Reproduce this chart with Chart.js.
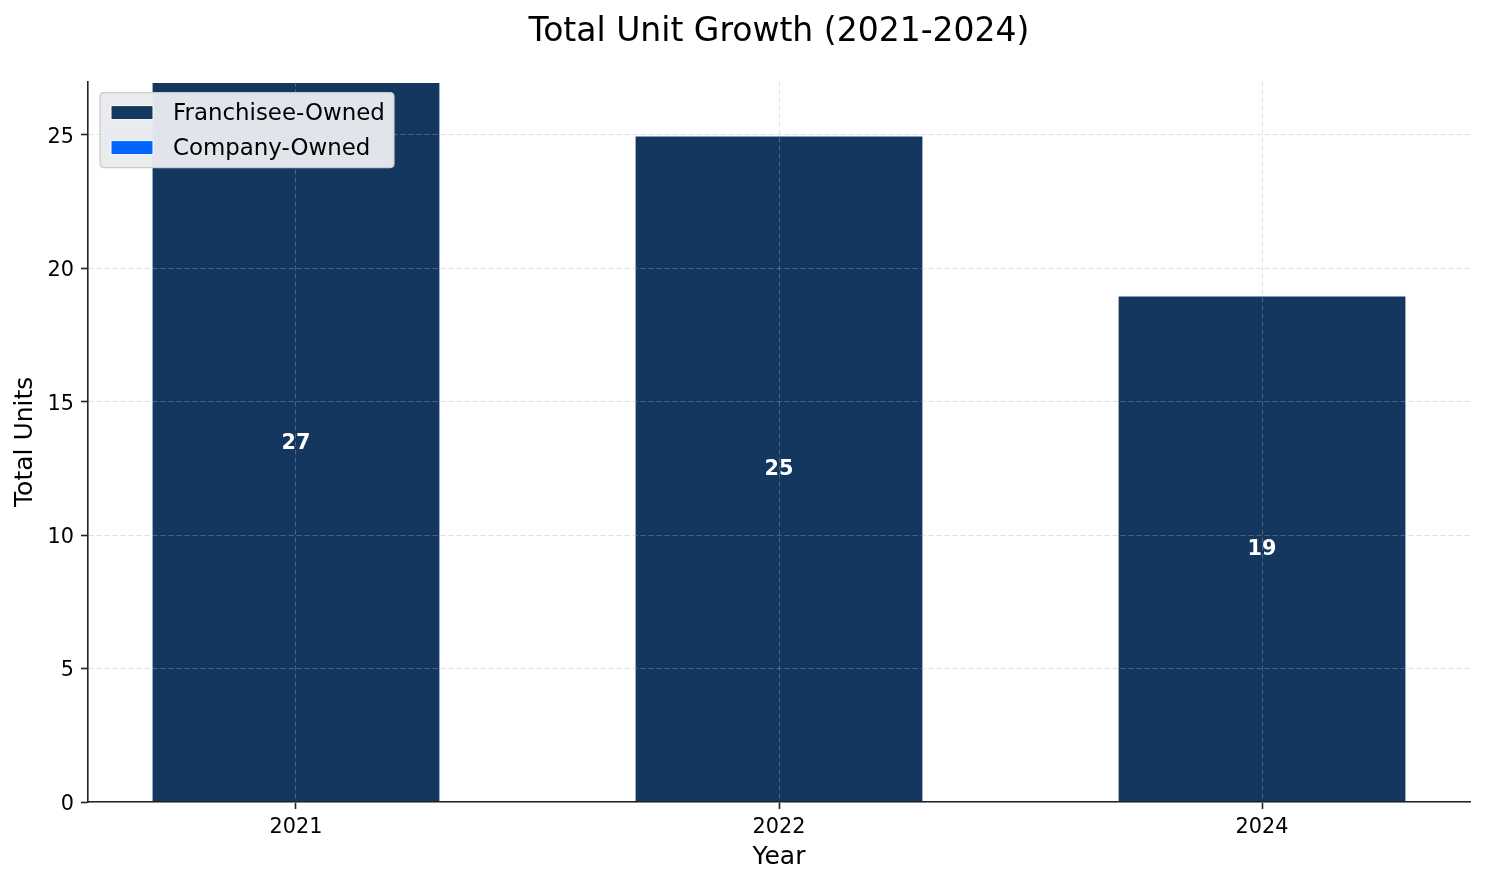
<!DOCTYPE html>
<html>
<head>
<meta charset="utf-8">
<script src="https://cdn.jsdelivr.net/npm/chart.js@4.4.1/dist/chart.umd.min.js"></script>
<style>
  html, body { margin: 0; padding: 0; background: #ffffff; }
  #wrap { width: 1485px; height: 884px; position: relative; }
</style>
</head>
<body>
<div id="wrap"><canvas id="c"></canvas></div>
<script>
// ---- data ----
const years = ["2021", "2022", "2024"];
const franchiseeOwned = [27, 25, 19];
const companyOwned = [0, 0, 0];
const seriesNames = ["Franchisee-Owned", "Company-Owned"];
const seriesColors = ["#14375f", "#0066ff"];
const chartTitle = "Total Unit Growth (2021-2024)";
const xTitle = "Year";
const yTitle = "Total Units";

const FONT = "'DejaVu Sans', sans-serif";

const toPoints = arr => arr.map((v, i) => ({ x: i, y: v }));

const labelPlugin = {
  id: 'stackLabels',
  afterDatasetsDraw(chart) {
    const ctx = chart.ctx;
    const xs = chart.scales.x, ys = chart.scales.y;
    ctx.save();
    ctx.fillStyle = '#ffffff';
    ctx.font = "bold 20.8px " + FONT;
    ctx.textAlign = 'center';
    ctx.textBaseline = 'middle';
    years.forEach((yr, i) => {
      const total = franchiseeOwned[i] + companyOwned[i];
      ctx.fillText(String(total), xs.getPixelForValue(i), ys.getPixelForValue(total / 2) + 1.5);
    });
    ctx.restore();
  }
};

const legendPlugin = {
  id: 'innerLegend',
  afterDraw(chart) {
    const ctx = chart.ctx;
    const area = chart.chartArea;
    const x0 = area.left + 12, y0 = area.top + 11, w = 294, h = 75;
    ctx.save();
    ctx.beginPath();
    const r = 4;
    ctx.moveTo(x0 + r, y0);
    ctx.lineTo(x0 + w - r, y0); ctx.quadraticCurveTo(x0 + w, y0, x0 + w, y0 + r);
    ctx.lineTo(x0 + w, y0 + h - r); ctx.quadraticCurveTo(x0 + w, y0 + h, x0 + w - r, y0 + h);
    ctx.lineTo(x0 + r, y0 + h); ctx.quadraticCurveTo(x0, y0 + h, x0, y0 + h - r);
    ctx.lineTo(x0, y0 + r); ctx.quadraticCurveTo(x0, y0, x0 + r, y0);
    ctx.closePath();
    ctx.fillStyle = 'rgba(232,234,238,0.97)';
    ctx.fill();
    ctx.strokeStyle = '#cccccc';
    ctx.lineWidth = 1.2;
    ctx.stroke();
    ctx.font = "22.9px " + FONT;
    ctx.textBaseline = 'middle';
    ctx.textAlign = 'left';
    chart.data.datasets.forEach((ds, i) => {
      const cy = y0 + 20 + i * 35;
      ctx.fillStyle = ds.backgroundColor;
      ctx.fillRect(x0 + 11, cy - 7, 42, 14);
      ctx.strokeStyle = '#ffffff';
      ctx.lineWidth = 1;
      ctx.strokeRect(x0 + 11, cy - 7, 42, 14);
      ctx.fillStyle = '#000000';
      ctx.fillText(ds.label, x0 + 73, cy + 1);
    });
    ctx.restore();
  }
};

const gridCommon = {
  z: 1, color: 'rgba(176,176,176,0.38)', lineWidth: 1,
  tickColor: '#222222', tickLength: 7, tickWidth: 1.6, tickBorderDash: [],
  drawTicks: true, offset: false
};

new Chart(document.getElementById('c'), {
  type: 'bar',
  data: {
    datasets: [
      { label: seriesNames[0], data: toPoints(franchiseeOwned), backgroundColor: seriesColors[0],
        borderColor: '#ffffff', borderWidth: 1.5, borderSkipped: 'start',
        barPercentage: 0.6, categoryPercentage: 1.0, stack: 's' },
      { label: seriesNames[1], data: toPoints(companyOwned), backgroundColor: seriesColors[1],
        borderColor: '#ffffff', borderWidth: 0, barPercentage: 0.6, categoryPercentage: 1.0, stack: 's' }
    ]
  },
  options: {
    responsive: true,
    maintainAspectRatio: false,
    devicePixelRatio: 1,
    animation: false,
    layout: { padding: { left: 0, right: 15, top: 0, bottom: 0 } },
    plugins: {
      legend: { display: false },
      tooltip: { enabled: false },
      title: {
        display: true, text: chartTitle, color: '#000000', fullSize: false,
        font: { family: FONT, size: 33, weight: 'normal' },
        padding: { top: 13, bottom: 29 }
      }
    },
    scales: {
      x: {
        type: 'linear', stacked: true, min: -0.4306, max: 2.4306, offset: false,
        afterFit(s) { s.height = 82; },
        ticks: {
          stepSize: 1, includeBounds: false, color: '#000000', padding: 6,
          font: { family: FONT, size: 20.8 },
          callback: v => (Number.isInteger(v) && years[v] !== undefined) ? years[v] : ''
        },
        grid: gridCommon,
        border: { display: true, color: '#222222', width: 1.6, z: 2, dash: [5, 3] },
        title: { display: true, text: xTitle, color: '#000000',
          font: { family: FONT, size: 25 }, padding: { top: 0, bottom: 12 } }
      },
      y: {
        stacked: true, min: 0, max: 27,
        afterFit(s) { s.width = 88; },
        ticks: {
          stepSize: 5, includeBounds: false, color: '#000000', padding: 7, labelOffset: 2.5,
          font: { family: FONT, size: 20.8 }
        },
        grid: gridCommon,
        border: { display: true, color: '#222222', width: 1.6, z: 2, dash: [5, 3] },
        title: { display: true, text: yTitle, color: '#000000',
          font: { family: FONT, size: 25 }, padding: { top: 10, bottom: 0 } }
      }
    }
  },
  plugins: [labelPlugin, legendPlugin]
});
</script>
</body>
</html>
